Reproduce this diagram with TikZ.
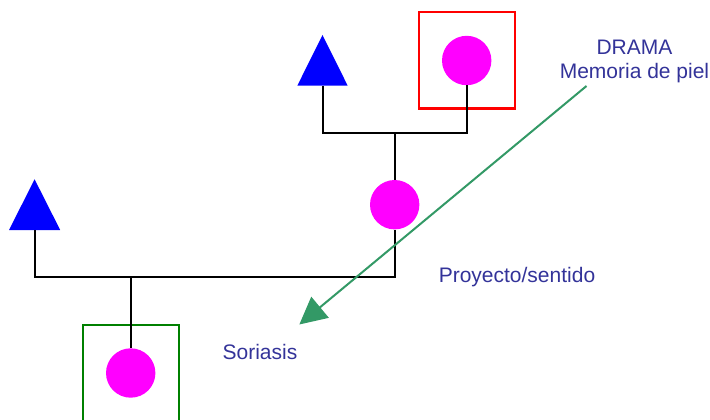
\documentclass[tikz,border=0pt]{standalone}
\usepackage{fontspec}
\setmainfont{Liberation Sans}
\usetikzlibrary{arrows.meta}
\definecolor{txtblue}{HTML}{333399}
\definecolor{arrgreen}{HTML}{339966}
\definecolor{boxgreen}{HTML}{008000}
\definecolor{pinkfill}{HTML}{FF00FF}
\definecolor{bluefill}{HTML}{0000FF}
\definecolor{redline}{HTML}{FF0000}
\tikzset{
  female/.style={circle, fill=pinkfill, draw=none, inner sep=0pt, minimum size=49.4pt},
  male/.style={fill=bluefill},
  frame/.style={rectangle, draw, line width=2pt, inner sep=0pt, minimum size=96pt, fill=none},
  link/.style={line width=2pt, black},
  lbl/.style={text=txtblue, font=\fontsize{21}{24}\selectfont, inner sep=0pt, align=center},
  pointer/.style={line width=2pt, arrgreen, -{Triangle[length=27pt,width=27pt]}}
}
\begin{document}
\begin{tikzpicture}[x=1pt,y=-1pt]
\useasboundingbox (0,0) rectangle (710,420);
% frames
\node[frame, draw=redline] (f1) at (466.7,60.5) {};
\node[frame, draw=boxgreen] (f2) at (130.7,372.5) {};
% triangles
\fill[male] (297.3,85.7) -- (322.5,35) -- (347.7,85.7) -- cycle;
\coordinate (t1) at (322.5,85.7);
\fill[male] (9,230) -- (34.6,179.3) -- (60.2,230) -- cycle;
\coordinate (t2) at (34.6,230);
% circles
\node[female] (c1) at (466.7,60.5) {};
\node[female] (c2) at (394.7,204.7) {};
\node[female] (c3) at (130.7,373) {};
% junctions
\coordinate (j1) at (394.7,132.7);
\coordinate (j2) at (394.7,276.7);
\coordinate (j3) at (130.7,276.7);
% lines
\draw[link] (t1) |- (j1) -| (c1.south);
\draw[link] (j1) -- (c2.north);
\draw[link] (t2) |- (j2) -- (c2.south);
\draw[link] (j3) -- (c3.north);
% labels
\node[lbl] (drama) at (634.5,61) {DRAMA\\Memoria de piel};
\node[lbl] (proy) at (517,277) {Proyecto/sentido};
\node[lbl] (sor) at (260,352) {Soriasis};
% arrow
\coordinate (a1) at (586.5,86);
\coordinate (a2) at (299.3,324.5);
\draw[pointer] (a1) -- (a2);
\end{tikzpicture}
\end{document}
